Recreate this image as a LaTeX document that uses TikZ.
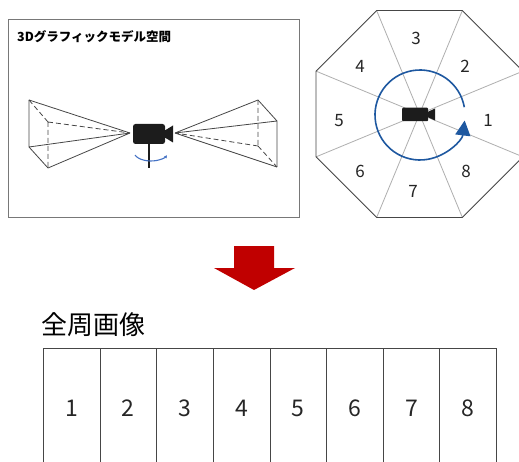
\documentclass[tikz,border=0pt]{standalone}
\usepackage{fontspec}
\setmainfont{Noto Sans CJK JP}
\usetikzlibrary{arrows.meta}
\definecolor{framegray}{RGB}{120,120,120}
\definecolor{edgegray}{RGB}{70,70,70}
\definecolor{spokegray}{RGB}{175,175,175}
\definecolor{camblack}{RGB}{28,28,28}
\definecolor{turnblue}{RGB}{68,114,196}
\definecolor{ringblue}{RGB}{30,88,160}
\definecolor{arrowred}{RGB}{192,0,0}
\tikzset{
  frustum/.style={draw=edgegray, line width=0.8pt},
  hidden/.style={frustum, dash pattern=on 5pt off 3pt},
  spoke/.style={draw=spokegray, line width=0.8pt},
  octlabel/.style={font=\fontsize{17}{17}\selectfont, text=black!85},
  cell/.style={draw=edgegray, line width=0.8pt, minimum width=56.625pt,
    minimum height=120pt, inner sep=0pt, anchor=north west,
    font=\fontsize{23}{23}\selectfont, text=black!85},
  camera/.style={fill=camblack, draw=none}
}
\begin{document}
\begin{tikzpicture}[x=1pt,y=1pt]
\useasboundingbox (0,0) rectangle (519,461);
\clip (0,0) rectangle (519,461);

% ---- 3D model space panel ----
\draw[framegray, line width=0.8pt] (8,442) rectangle (299,244);
\node[anchor=west, inner sep=0pt, font=\fontsize{12.5}{12.5}\selectfont\bfseries]
  (title) at (17,424) {3Dグラフィックモデル空間};

% left viewing frustum
\coordinate (la) at (130,328);
\coordinate (A) at (29,361);
\coordinate (B) at (48,339);
\coordinate (C) at (29,314);
\coordinate (D) at (48,293);
\draw[frustum] (A) -- (la) (A) -- (C) (C) -- (la) (C) -- (D) (D) -- (la);
\draw[hidden] (A) -- (B) (B) -- (la) (B) -- (D);

% right viewing frustum
\coordinate (ra) at (175,328);
\coordinate (E) at (258,361);
\coordinate (F) at (277,340);
\coordinate (G) at (258,315);
\coordinate (H) at (277,294);
\draw[frustum] (E) -- (ra) (E) -- (F) (F) -- (ra) (F) -- (H) (H) -- (ra);
\draw[hidden] (E) -- (G) (G) -- (ra) (G) -- (H);

% camera on its stand
\coordinate (stand) at (149,293);
\node[camera, rounded corners=2.5pt, minimum width=32pt, minimum height=20pt,
  inner sep=0pt] (cam) at (149,327) {};
\fill[camblack] (164,330) -- (173,335.5) -- (173,318.5) -- (164,324) -- cycle;
\draw[camblack, line width=1.2pt] (cam.south) -- (stand);
\draw[turnblue, line width=1.1pt, -{Latex[length=3pt,width=3.5pt]}]
  (151,309) ++(200:17 and 9) arc[start angle=200, end angle=340,
  x radius=17, y radius=9];

% ---- octagon of view directions ----
\coordinate (oc) at (419.5,347);
\foreach \k in {0,...,7} {
  \path (oc) ++(22.5+45*\k:112) coordinate (v\k);
}
\fill[white] (v0) -- (v1) -- (v2) -- (v3) -- (v4) -- (v5) -- (v6) -- (v7) -- cycle;
\foreach \k in {0,...,7} { \draw[spoke] (oc) -- (v\k); }
\draw[edgegray, line width=0.9pt]
  (v0) -- (v1) -- (v2) -- (v3) -- (v4) -- (v5) -- (v6) -- (v7) -- cycle;

\node[octlabel] (o1) at (488,341) {1};
\node[octlabel] (o2) at (465,395) {2};
\node[octlabel] (o3) at (416,423) {3};
\node[octlabel] (o4) at (360,395) {4};
\node[octlabel] (o5) at (339,340) {5};
\node[octlabel] (o6) at (360,290) {6};
\node[octlabel] (o7) at (413,270) {7};
\node[octlabel] (o8) at (466,290) {8};

\coordinate (rc) at (420,346);
\draw[ringblue, line width=1.6pt, -{Triangle[length=15pt,width=15pt]}]
  (rc) ++(10:45) arc[start angle=10, end angle=353, radius=45];

\node[camera, minimum width=26pt, minimum height=13.5pt, inner sep=0pt,
  rounded corners=1pt] (ocam) at (415,346.5) {};
\fill[camblack] (427.5,349) -- (435,352.5) -- (435,340.5) -- (427.5,344) -- cycle;

% ---- arrow down to the panorama ----
\fill[arrowred] (234,215) -- (274,215) -- (274,193) -- (295,193) -- (254,171)
  -- (214,193) -- (234,193) -- cycle;

% ---- panoramic image strip ----
\node[anchor=west, inner sep=0pt, font=\fontsize{26}{26}\selectfont]
  (pano) at (41,136) {全周画像};
\foreach \k in {1,...,8} {
  \node[cell] (t\k) at ({43+56.625*(\k-1)},113) {\k};
}
\end{tikzpicture}
\end{document}
